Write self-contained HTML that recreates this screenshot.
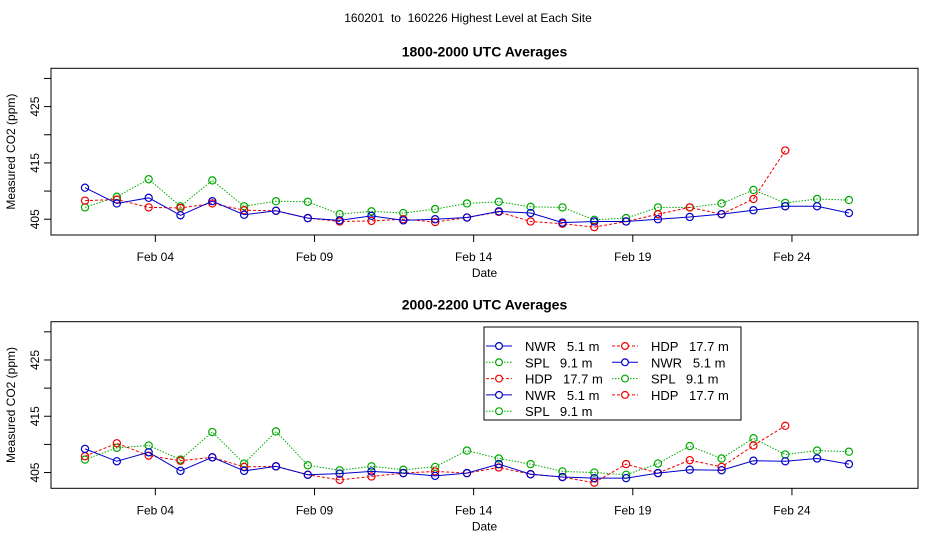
<!DOCTYPE html>
<html><head><meta charset="utf-8"><style>
body{margin:0;background:#fff;width:936px;height:540px;overflow:hidden;font-family:"Liberation Sans",sans-serif}
text{white-space:pre}
</style></head><body>
<svg id="c" width="936" height="540" xmlns="http://www.w3.org/2000/svg" font-family="Liberation Sans, sans-serif">
<text x="468" y="22" font-size="12" text-anchor="middle">160201  to  160226 Highest Level at Each Site</text>
</svg>
<script>
const days = [1,2,3,4,5,6,7,8,9,10,11,12,13,14,15,16,17,18,19,20,21,22,23,24,25];
const tickDays = [4,9,14,19,24];
const tickLabels = ["Feb 04","Feb 09","Feb 14","Feb 19","Feb 24"];
const yTicks = [405,410,415,420,425,430];
const yTickLabels = ["405","","415","","425",""];
const p1NWR = [410.6,407.8,408.8,405.7,408.2,405.8,406.5,405.2,404.8,405.6,404.8,405.0,405.3,406.4,406.1,404.4,404.6,404.6,405.0,405.4,405.9,406.6,407.3,407.3,406.1];
const p1SPL = [407.1,409.0,412.1,407.3,411.9,407.3,408.2,408.1,405.9,406.4,406.1,406.8,407.8,408.1,407.2,407.1,404.9,405.2,407.1,407.1,407.8,410.2,407.9,408.6,408.4];
const p1HDP = [408.3,408.5,407.1,407.0,407.8,406.6,406.5,405.2,404.6,404.7,405.0,404.5,405.3,406.3,404.6,404.2,403.6,404.6,405.9,407.1,405.9,408.6,417.2];
const p2NWR = [409.2,407.0,408.6,405.3,407.7,405.3,406.1,404.6,404.8,405.2,404.9,404.4,404.9,406.5,404.7,404.2,404.0,404.0,404.9,405.5,405.4,407.1,407.0,407.5,406.5];
const p2SPL = [407.3,409.4,409.8,407.3,412.2,406.6,412.3,406.3,405.4,406.1,405.5,406.0,408.9,407.5,406.5,405.2,405.0,404.6,406.6,409.7,407.5,411.1,408.2,408.9,408.7];
const p2HDP = [407.9,410.2,408.0,407.1,407.7,406.0,406.1,404.6,403.7,404.3,404.9,405.2,404.9,405.9,404.7,404.2,403.2,406.5,404.9,407.2,406.0,409.8,413.3];

const svg=document.getElementById('c');
const NS='http://www.w3.org/2000/svg';
const L=51,R=918,Y0=402.2,Y1=431.8;
function xs(d){return 85+(d-1)*31.83;}
function el(t,a,p){const e=document.createElementNS(NS,t);for(const k in a)e.setAttribute(k,a[k]);(p||svg).appendChild(e);return e;}
const colors={NWR:'#0000cc',SPL:'#00aa00',HDP:'#ee0000'};
const dash={NWR:'',SPL:'1.5,1.5',HDP:'3,2'};
function panel(top,bot,title,series,pname){
  const g=el('g',{});
  
  
  const ys=v=>bot-(v-Y0)/(Y1-Y0)*(bot-top);
  const fr=el('rect',{x:L,y:top,width:R-L,height:bot-top,fill:'none',stroke:'#000'},g);
  
  const t=el('text',{x:(L+R)/2,y:top-12,'font-size':14,'font-weight':'bold','text-anchor':'middle'},g);t.textContent=title;
  
  yTicks.forEach((v,i)=>{const y=ys(v);el('line',{x1:L-7,x2:L,y1:y,y2:y,stroke:'#000'},g);
    if(yTickLabels[i]){const tx=el('text',{x:0,y:0,'font-size':12,'text-anchor':'middle',transform:`translate(${L-12},${y}) rotate(-90)`},g);tx.textContent=yTickLabels[i];
    }});
  const yl=el('text',{x:0,y:0,'font-size':12,'text-anchor':'middle',transform:`translate(15,${(top+bot)/2}) rotate(-90)`},g);yl.textContent='Measured CO2 (ppm)';
  
  tickDays.forEach((d,i)=>{const x=xs(d-1)+0.21*31.83;el('line',{x1:x,x2:x,y1:bot,y2:bot+7,stroke:'#000'},g);
    const tx=el('text',{x:x,y:bot+26,'font-size':12,'text-anchor':'middle'},g);tx.textContent=tickLabels[i];
    });
  const xl=el('text',{x:(L+R)/2,y:bot+42,'font-size':12,'text-anchor':'middle'},g);xl.textContent='Date';
  
  series.forEach(([nm,vals])=>{
    const pts=vals.map((v,i)=>[xs(days[i]),ys(v)]);
    const pl=el('polyline',{points:pts.map(p=>p.join(',')).join(' '),fill:'none',stroke:colors[nm],'stroke-width':1,'stroke-dasharray':dash[nm]},g);
    
    pts.forEach(p=>{const c=el('circle',{cx:p[0],cy:p[1],r:3.6,fill:'none',stroke:colors[nm],'stroke-width':1.2},g);
      });
  });
  return ys;
}
panel(68.3,235,'1800-2000 UTC Averages',[['SPL',p1SPL],['HDP',p1HDP],['NWR',p1NWR]],'panel-1800-2000');
panel(321.7,488.3,'2000-2200 UTC Averages',[['SPL',p2SPL],['HDP',p2HDP],['NWR',p2NWR]],'panel-2000-2200');
const lg=el('g',{});


el('rect',{x:484,y:327,width:257,height:93,fill:'#fff',stroke:'#000'},lg);
const entries=[['NWR','NWR   5.1 m'],['SPL','SPL   9.1 m'],['HDP','HDP   17.7 m'],['NWR','NWR   5.1 m'],['SPL','SPL   9.1 m'],['HDP','HDP   17.7 m'],['NWR','NWR   5.1 m'],['SPL','SPL   9.1 m'],['HDP','HDP   17.7 m']];
entries.forEach((e,i)=>{const col=i<5?0:1,row=i<5?i:i-5;const x=486+col*126,y=346+row*16.3;
  const le=el('g',{},lg);
  
  
  el('line',{x1:x,x2:x+26,y1:y,y2:y,stroke:colors[e[0]],'stroke-dasharray':dash[e[0]]},le);
  el('circle',{cx:x+13,cy:y,r:3.4,fill:'#fff',stroke:colors[e[0]],'stroke-width':1.2},le);
  const t=el('text',{x:x+39,y:y+5,'font-size':13},le);t.textContent=e[1];
});
</script>
</body></html>
